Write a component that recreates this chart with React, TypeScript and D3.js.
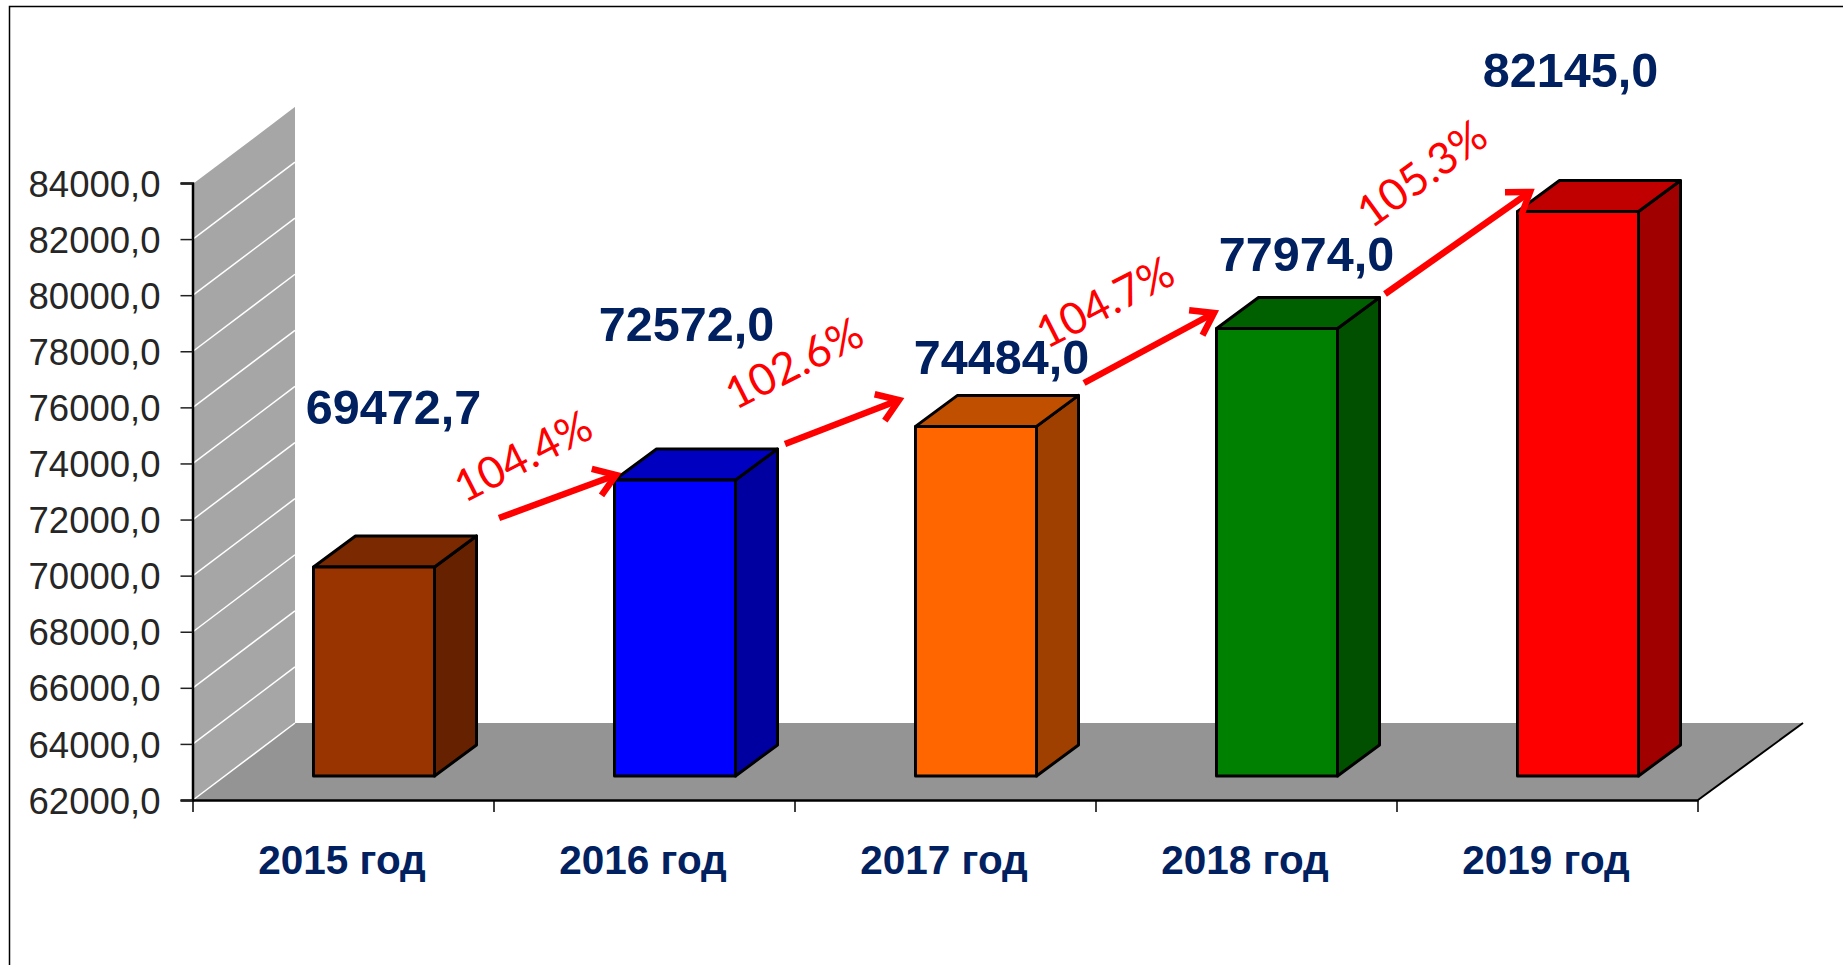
import React, { useEffect, useRef } from 'react';
import * as d3 from 'd3';

const categories = ['2015 год', '2016 год', '2017 год', '2018 год', '2019 год'];
const values = [69472.7, 72572.0, 74484.0, 77974.0, 82145.0];
const valueLabels = ['69472,7', '72572,0', '74484,0', '77974,0', '82145,0'];
const yTicks = [62000, 64000, 66000, 68000, 70000, 72000, 74000, 76000, 78000, 80000, 82000, 84000];
const growthLabels = ['104.4%', '102.6%', '104.7%', '105.3%'];

const frontColors = ['#993300', '#0000ff', '#ff6600', '#008000', '#ff0000'];
const topColors = ['#7a2900', '#0000c0', '#c04f00', '#006000', '#c00000'];
const sideColors = ['#662200', '#0000a0', '#a04000', '#005000', '#a00000'];

// layout, in pixels
const width = 1843;
const height = 965;
const plot = { left: 193, right: 1698, top: 183, bottom: 800 };
const wall = { dx: 102, dy: -77 };
const barDepth = { dx: 42, dy: -31 };
const barFront = { dx: 30.5, dy: -24 };
const barWidth = 121;
const navy = '#002060';
const labelOffsets = [
  { x: 50, y: 424 },
  { x: 42, y: 341 },
  { x: 56, y: 374 },
  { x: 60, y: 271 },
  { x: 23, y: 87 },
];
const arrows = [
  { x1: 499, y1: 518, x2: 616, y2: 475 },
  { x1: 785, y1: 444, x2: 899, y2: 400 },
  { x1: 1084, y1: 383, x2: 1214, y2: 313 },
  { x1: 1385, y1: 294, x2: 1530, y2: 192 },
];
const growthPos = [
  { x: 530, y: 470, a: -27 },
  { x: 801, y: 377, a: -27 },
  { x: 1112, y: 316, a: -27 },
  { x: 1431, y: 186, a: -36 },
];

const poly = (pts: number[][]) => pts.map((p) => p.join(',')).join(' ');

export default function App() {
  const ref = useRef<SVGSVGElement>(null);

  useEffect(() => {
    const svg = d3.select(ref.current);
    svg.selectAll('*').remove();

    const y = d3.scaleLinear().domain([62000, 84000]).range([plot.bottom, plot.top]);
    const x = d3.scaleBand().domain(categories).range([plot.left, plot.right]);

    // outer frame, top and left only
    svg.append('path').attr('d', `M9.5,965V6.5H${width}`).attr('fill', 'none').attr('stroke', '#000').attr('stroke-width', 1.5);

    // back wall and floor
    svg.append('polygon')
      .attr('points', poly([
        [plot.left, plot.top],
        [plot.left + wall.dx, plot.top + wall.dy],
        [plot.left + wall.dx, plot.bottom + wall.dy],
        [plot.left, plot.bottom],
      ]))
      .attr('fill', '#a6a6a6');
    svg.append('polygon')
      .attr('points', poly([
        [plot.left, plot.bottom],
        [plot.left + wall.dx, plot.bottom + wall.dy],
        [plot.right + wall.dx + 3, plot.bottom + wall.dy],
        [plot.right, plot.bottom],
      ]))
      .attr('fill', '#949494');
    svg.append('line')
      .attr('x1', plot.right).attr('y1', plot.bottom)
      .attr('x2', plot.right + wall.dx + 3).attr('y2', plot.bottom + wall.dy)
      .attr('stroke', '#000').attr('stroke-width', 2);

    svg.append('g').selectAll('line').data(yTicks).join('line')
      .attr('x1', plot.left)
      .attr('y1', (d) => y(d))
      .attr('x2', plot.left + wall.dx)
      .attr('y2', (d) => y(d) + wall.dy)
      .attr('stroke', '#fff')
      .attr('stroke-width', 1.5);

    // bars
    const bars = svg.append('g').selectAll('g').data(values).join('g');
    const left = (i: number) => (x(categories[i]) as number) + x.bandwidth() / 2 + barFront.dx - barWidth / 2;
    const base = y(62000) + barFront.dy;
    const barTop = (d: number) => y(d) + barFront.dy + 0.5;

    bars.append('polygon')
      .attr('points', (d, i) => poly([
        [left(i) + barWidth, barTop(d)],
        [left(i) + barWidth + barDepth.dx, barTop(d) + barDepth.dy],
        [left(i) + barWidth + barDepth.dx, base + barDepth.dy],
        [left(i) + barWidth, base],
      ]))
      .attr('fill', (d, i) => sideColors[i]);
    bars.append('polygon')
      .attr('points', (d, i) => poly([
        [left(i), barTop(d)],
        [left(i) + barDepth.dx, barTop(d) + barDepth.dy],
        [left(i) + barWidth + barDepth.dx, barTop(d) + barDepth.dy],
        [left(i) + barWidth, barTop(d)],
      ]))
      .attr('fill', (d, i) => topColors[i]);
    bars.append('rect')
      .attr('x', (d, i) => left(i))
      .attr('y', (d) => barTop(d))
      .attr('width', barWidth)
      .attr('height', (d) => base - barTop(d))
      .attr('fill', (d, i) => frontColors[i]);
    bars.selectAll('polygon, rect')
      .attr('stroke', '#000')
      .attr('stroke-width', 3)
      .attr('stroke-linejoin', 'round');

    // axes
    const yAxis = svg.append('g')
      .attr('transform', `translate(${plot.left - 0.5},0)`)
      .call(d3.axisLeft(y).tickValues(yTicks).tickSize(12).tickPadding(20).tickFormat((d) => `${d},0`));
    yAxis.select('.domain').attr('stroke-width', 2.5);
    yAxis.selectAll('.tick line').attr('stroke-width', 1.5).attr('stroke', '#222');
    yAxis.selectAll('text')
      .attr('font-family', '"Liberation Sans", Arial, sans-serif')
      .attr('font-size', 36.5)
      .attr('fill', '#262626')
      .attr('dy', '0.36em');

    const xAxis = svg.append('g')
      .attr('transform', `translate(0,${plot.bottom})`)
      .call(d3.axisBottom(x).tickSize(0).tickPadding(0));
    xAxis.select('.domain').attr('stroke-width', 2.5);
    xAxis.selectAll('text')
      .attr('x', -1.5)
      .attr('y', 74)
      .attr('dy', 0)
      .attr('font-family', '"Liberation Sans", Arial, sans-serif')
      .attr('font-size', 40.5)
      .attr('font-weight', 700)
      .attr('fill', navy);

    // ticks between categories
    svg.append('g').selectAll('line')
      .data([...categories.map((c) => x(c) as number), plot.right])
      .join('line')
      .attr('x1', (d) => d).attr('x2', (d) => d)
      .attr('y1', plot.bottom).attr('y2', plot.bottom + 12)
      .attr('stroke', '#000').attr('stroke-width', 1.5);

    // value labels
    svg.append('g').selectAll('text').data(valueLabels).join('text')
      .attr('x', (d, i) => (x(categories[i]) as number) + x.bandwidth() / 2 + labelOffsets[i].x)
      .attr('y', (d, i) => labelOffsets[i].y)
      .attr('text-anchor', 'middle')
      .attr('font-family', '"Liberation Sans", Arial, sans-serif')
      .attr('font-size', 48.5)
      .attr('font-weight', 700)
      .attr('fill', navy)
      .text((d) => d);

    // growth arrows
    const arrowG = svg.append('g').selectAll('g').data(arrows).join('g');
    arrowG.append('line')
      .attr('x1', (d) => d.x1).attr('y1', (d) => d.y1)
      .attr('x2', (d) => d.x2).attr('y2', (d) => d.y2)
      .attr('stroke', '#ff0000').attr('stroke-width', 6.5);
    arrowG.append('path')
      .attr('d', (d) => {
        const a = Math.atan2(d.y2 - d.y1, d.x2 - d.x1);
        const wing = (t: number) => `${d.x2 - 25 * Math.cos(a + t)},${d.y2 - 25 * Math.sin(a + t)}`;
        return `M${wing(0.6)}L${d.x2},${d.y2}L${wing(-0.6)}`;
      })
      .attr('fill', 'none')
      .attr('stroke', '#ff0000')
      .attr('stroke-width', 6.5);

    svg.append('g').selectAll('text').data(growthLabels).join('text')
      .attr('transform', (d, i) => `translate(${growthPos[i].x},${growthPos[i].y}) rotate(${growthPos[i].a})`)
      .attr('text-anchor', 'middle')
      .attr('font-family', 'Lato, "Open Sans", sans-serif')
      .attr('font-size', 44)
      .attr('fill', '#ff0000')
      .text((d) => d);
  }, []);

  return (
    <svg
      ref={ref}
      width={width}
      height={height}
      style={{ position: 'absolute', left: 0, top: 0, background: '#fff' }}
    />
  );
}
